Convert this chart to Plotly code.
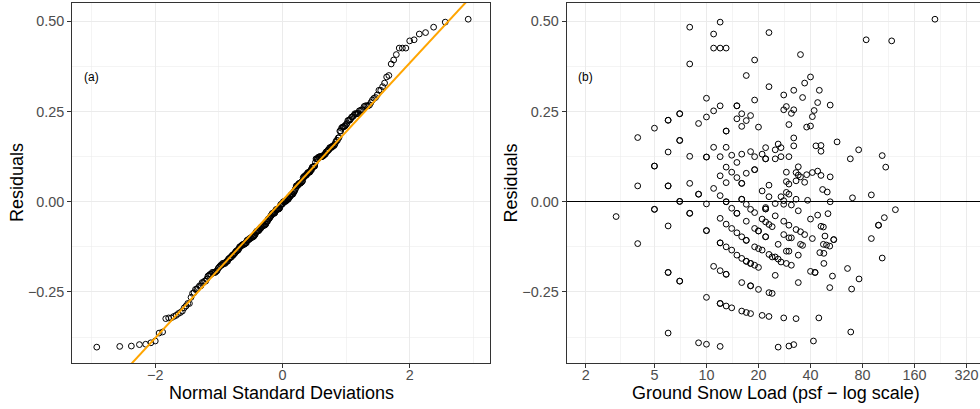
import math
import numpy as np
from statistics import NormalDist
import plotly.graph_objects as go

# Ground snow load (psf) and model residual for each station
snow_load = [
    8, 8, 10, 11, 11, 11, 10, 9, 7, 6, 5, 4, 7, 6, 5, 8, 10, 11, 4, 6, 8, 9, 11,
    12, 12, 13, 23, 35, 19, 17, 23, 19, 28, 32, 37, 36, 12, 15, 29, 28, 32, 31, 15, 16, 18, 17, 16, 20, 30, 38,
    13, 32, 32, 13, 12, 14, 16, 18, 19, 21, 22, 22, 25, 26, 27, 25, 27, 30, 13, 15, 14, 12, 15, 17, 19, 13, 16,
    29, 34, 33, 34, 35, 38, 29, 30, 33, 37, 23, 21, 12, 23, 27, 29, 30,
    210, 84, 118, 40, 45, 44, 52, 42, 41, 40, 43, 46, 46, 57, 76, 68, 104, 109, 41, 44, 46, 52, 47, 50, 70, 90,
    7, 10, 5, 3, 8, 6, 10, 4, 6, 7, 11, 10, 6, 9, 10,
    13, 16, 17, 25, 28, 33,
    14, 15, 18, 19, 22, 22, 25, 28, 31, 34,
    17, 21, 22, 23, 24, 20, 19, 22,
    28, 30, 33, 35, 37, 28, 31, 30, 26, 35, 36, 29, 30, 34,
    12, 13, 14, 15, 16, 17,
    12, 13, 14, 15, 16, 17, 18, 19, 20,
    19, 20, 21,
    23, 24, 25, 26, 27, 29, 31,
    12, 13,
    16, 18, 20, 23, 24, 25, 34,
    12, 13, 14, 16, 17, 18, 21, 23, 28, 33,
    12, 26, 30, 32,
    38.5, 52, 124, 107, 99, 90, 104, 50.5, 44, 40, 46, 47.5, 41, 48.5, 54.5, 47.5, 49.5, 51.7, 45.3, 47.8,
    47.8, 40, 42.5, 53.6, 65.5, 76.4, 51.7, 69.2, 44.7, 68.4, 41.6,
    # overlapping (doubled) markers
    6, 7, 7, 5, 6, 10, 9, 7, 5, 8, 6, 7, 10, 13, 22, 19, 16, 15,
    13, 16, 15, 22, 20, 22, 17, 12, 17, 18, 13, 18, 12, 99, 54.5, 42.5,
]

residual = [
    0.484, 0.382, 0.287, 0.465, 0.426, 0.252, 0.235, 0.217, 0.244, 0.226, 0.204, 0.178, 0.170, 0.138, 0.099,
    0.126, 0.124, 0.151, 0.044, 0.044, 0.051, 0.021, 0.037,
    0.498, 0.426, 0.426, 0.469, 0.408, 0.393, 0.350, 0.319, 0.282, 0.296, 0.309, 0.329, 0.289, 0.266, 0.266,
    0.264, 0.255, 0.255, 0.245, 0.230, 0.244, 0.239, 0.225, 0.209, 0.207, 0.214, 0.207,
    0.196, 0.177, 0.155, 0.151, 0.125, 0.129, 0.132, 0.139, 0.125, 0.132, 0.150, 0.119, 0.144, 0.160, 0.150,
    0.119, 0.125, 0.125, 0.096, 0.109, 0.082, 0.072, 0.067, 0.079, 0.089, 0.053, 0.051,
    0.082, 0.097, 0.081, 0.074, 0.069, 0.075, 0.056, 0.049, 0.058, 0.054, 0.046, 0.030, 0.017, 0.014, 0.014,
    0.026, 0.021,
    0.506, 0.449, 0.446, 0.346, 0.309, 0.275, 0.268, 0.253, 0.236, 0.210, 0.155, 0.156, 0.140, 0.166, 0.144,
    0.119, 0.128, 0.096, 0.081, 0.085, 0.073, 0.069, 0.034, 0.027, 0.011, 0.019,
    0.001, -0.006, -0.021, -0.041, -0.032, -0.067, -0.080, -0.116, -0.196, -0.220, -0.179, -0.265, -0.364,
    -0.391, -0.395,
    0.000, 0.007, -0.007, -0.005, 0.003, 0.007,
    -0.018, -0.032, -0.021, -0.030, -0.016, -0.020, -0.039, -0.007, -0.009, -0.025,
    -0.054, -0.048, -0.056, -0.063, -0.069, -0.081, -0.074, -0.097,
    -0.054, -0.065, -0.077, -0.083, -0.091, -0.091, -0.100, -0.100, -0.118, -0.118, -0.121, -0.137, -0.137,
    -0.148,
    -0.046, -0.062, -0.074, -0.086, -0.097, -0.107,
    -0.114, -0.125, -0.134, -0.148, -0.157, -0.165, -0.171, -0.176, -0.182,
    -0.125, -0.130, -0.134,
    -0.146, -0.153, -0.153, -0.159, -0.167, -0.171, -0.176,
    -0.191, -0.201,
    -0.224, -0.233, -0.243, -0.252, -0.254, -0.204, -0.224,
    -0.282, -0.289, -0.294, -0.303, -0.307, -0.310, -0.315, -0.318, -0.322, -0.324,
    -0.401, -0.403, -0.400, -0.396,
    0.004, 0.000, -0.022, -0.044, -0.065, -0.102, -0.156, -0.033, -0.037, -0.048, -0.068, -0.070, -0.102,
    -0.095, -0.105, -0.118, -0.120, -0.123, -0.141, -0.143,
    -0.171, -0.193, -0.196, -0.206, -0.185, -0.214, -0.238, -0.242, -0.322, -0.361, -0.386,
    0.226, 0.244, 0.170, 0.099, 0.044, 0.124, 0.021, 0.001, -0.021, -0.032, -0.196, -0.220, -0.080, 0.196,
    0.119, 0.089, 0.051, 0.266,
    0.000, 0.007, -0.032, -0.020, -0.081, -0.097, -0.107, -0.114, -0.165, -0.171, -0.201, -0.233, -0.282,
    -0.065, -0.105, -0.196,
]

x_ticks_a = [-2, 0, 2]
x_minor_a = [-3, -1, 1, 3]
y_ticks = [-0.25, 0.0, 0.25, 0.50]
y_tick_text = ["\u22120.25", "0.00", "0.25", "0.50"]
y_minor = [-0.375, -0.125, 0.125, 0.375]
x_ticks_b = [2, 5, 10, 20, 40, 80, 160, 320]
x_minor_b = [math.sqrt(a * b) for a, b in zip(x_ticks_b[:-1], x_ticks_b[1:])]

assert len(snow_load) == len(residual)

# Normal QQ (ppoints) and quartile reference line
nd = NormalDist()
n = len(residual)
sample = np.sort(np.array(residual))
theo = np.array([nd.inv_cdf((i - 0.5) / n) for i in range(1, n + 1)])
q1, q3 = np.quantile(sample, [0.25, 0.75])
t1, t3 = nd.inv_cdf(0.25), nd.inv_cdf(0.75)
slope = (q3 - q1) / (t3 - t1)
intercept = q1 - slope * t1

xr_a = [-3.305, 3.263]
yr = [-0.447, 0.551]
xr_b = [math.log10(1.553), 2.583]

W, H = 980, 409
mt, mb = 3, 46
ph = H - mt - mb

FONT = "Liberation Sans, Arial, Helvetica, sans-serif"
GRID = "#EBEBEB"
BORDER = "#333333"
TICKC = "#4D4D4D"

marker = dict(symbol="circle-open", size=5.8, color="black", line=dict(width=1.0, color="black"))

fig = go.Figure()
fig.add_trace(go.Scatter(x=theo, y=sample, mode="markers", marker=marker,
                         xaxis="x", yaxis="y", showlegend=False, hoverinfo="skip"))
line_x = np.array(xr_a)
fig.add_trace(go.Scatter(x=line_x, y=intercept + slope * line_x, mode="lines",
                         line=dict(color="#FFA500", width=2), xaxis="x", yaxis="y",
                         showlegend=False, hoverinfo="skip"))
fig.add_trace(go.Scatter(x=snow_load, y=residual, mode="markers", marker=marker,
                         xaxis="x2", yaxis="y2", showlegend=False, hoverinfo="skip"))

common = dict(showgrid=True, gridcolor=GRID, gridwidth=1.07, showline=True, linecolor=BORDER,
              linewidth=1.07, ticks="outside", ticklen=4, tickwidth=1.07, tickcolor=BORDER,
              tickfont=dict(family=FONT, size=14.4, color=TICKC), zeroline=False, fixedrange=True)

fig.update_layout(
    width=W, height=H,
    margin=dict(l=0, r=0, t=mt, b=mb, pad=0),
    paper_bgcolor="white", plot_bgcolor="white",
    font=dict(family=FONT),
    xaxis=dict(domain=[72.3 / W, 490 / W], range=xr_a, tickmode="array", tickvals=x_ticks_a,
               ticktext=["\u22122", "0", "2"], mirror=True, anchor="y", ticklabelstandoff=-5,
               minor=dict(tickmode="array", tickvals=x_minor_a, showgrid=True, gridcolor=GRID,
                          gridwidth=0.55, ticks=""),
               **common),
    yaxis=dict(domain=[0, 1], range=yr, tickmode="array", tickvals=y_ticks, ticktext=y_tick_text,
               mirror=True, anchor="x",
               minor=dict(tickmode="array", tickvals=y_minor, showgrid=True, gridcolor=GRID,
                          gridwidth=0.55, ticks=""),
               **common),
    xaxis2=dict(type="log", domain=[566.7 / W, 1.0], range=xr_b, tickmode="array",
                tickvals=x_ticks_b, ticktext=[str(v) for v in x_ticks_b], mirror=True, anchor="y2",
                ticklabelstandoff=-5,
                minor=dict(tickmode="array", tickvals=x_minor_b, showgrid=True, gridcolor=GRID,
                           gridwidth=0.55, ticks=""),
                **common),
    yaxis2=dict(domain=[0, 1], range=yr, tickmode="array", tickvals=y_ticks, ticktext=y_tick_text,
                mirror=False, anchor="x2",
                minor=dict(tickmode="array", tickvals=y_minor, showgrid=True, gridcolor=GRID,
                           gridwidth=0.55, ticks=""),
                **common),
)
fig.layout.yaxis2.zeroline = True
fig.layout.yaxis2.zerolinecolor = "black"
fig.layout.yaxis2.zerolinewidth = 1.07


def py(pix):
    return (H - mb - pix) / ph


title_font = dict(family=FONT, size=18, color="black")
ann = [
    dict(text="Normal Standard Deviations", xref="x domain", yref="paper", x=0.5, y=py(392.8),
         xanchor="center", yanchor="middle", showarrow=False, font=title_font),
    dict(text="Ground Snow Load (psf \u2212 log scale)", xref="paper", yref="paper", x=775.5 / W,
         y=py(392.8), xanchor="center", yanchor="middle", showarrow=False, font=title_font),
    dict(text="Residuals", xref="paper", yref="paper", x=17.0 / W, y=py(183), textangle=-90,
         xanchor="center", yanchor="middle", showarrow=False, font=title_font),
    dict(text="Residuals", xref="paper", yref="paper", x=510.5 / W, y=py(183), textangle=-90,
         xanchor="center", yanchor="middle", showarrow=False, font=title_font),
    dict(text="(a)", xref="x", yref="y", x=-3, y=0.345, xanchor="center", yanchor="middle",
         showarrow=False, font=dict(family=FONT, size=12, color="black")),
    dict(text="(b)", xref="x2", yref="y2", x=math.log10(2), y=0.345, xanchor="center",
         yanchor="middle", showarrow=False, font=dict(family=FONT, size=12, color="black")),
]
fig.update_layout(annotations=ann)

fig.write_html(
    "out.html",
    config={"displayModeBar": False, "staticPlot": True},
    post_script="document.body.style.margin='0';document.body.style.padding='0';"
                "document.body.style.overflow='hidden';",
)
